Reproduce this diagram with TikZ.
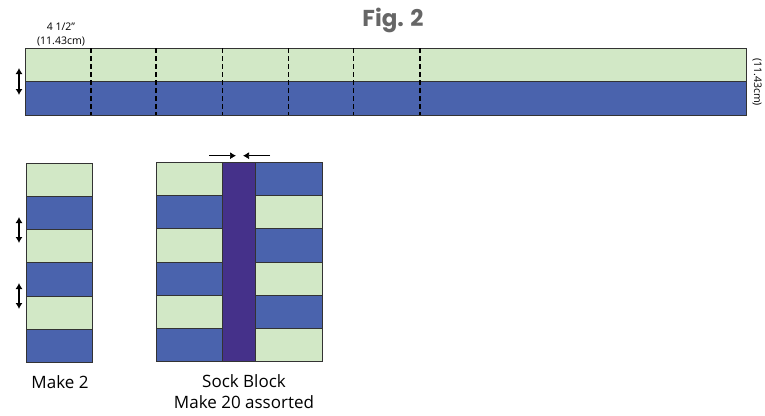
\documentclass[tikz,border=0pt]{standalone}
\usepackage{fontspec}
\setmainfont{Open Sans}
\newfontfamily\figfont{Poppins}
\usetikzlibrary{arrows.meta}

\definecolor{lightgreen}{HTML}{D2E8C6}
\definecolor{stripblue}{HTML}{4A63AD}
\definecolor{sockpurple}{HTML}{45318A}

\begin{document}
\begin{tikzpicture}[
        x=1pt, y=-1pt, % pixel grid, y downwards
        greenpatch/.style = {fill=lightgreen, draw=black!80, line width=0.7pt},
        bluepatch/.style = {fill=stripblue, draw=black!80, line width=0.7pt},
        purplepatch/.style = {fill=sockpurple, draw=black!80, line width=0.7pt},
        cutline/.style = {dash pattern=on 5pt off 3pt, line width=1.4pt}, % cutting lines
        dblarrow/.style = {{Latex[length=6pt,width=7pt]}-{Latex[length=6pt,width=7pt]}, line width=1.1pt},
        pressarrow/.style = {-{Latex[length=6pt,width=7pt]}, line width=0.7pt},
        small/.style = {font=\fontsize{10.5}{14}\selectfont, align=center},
        caption/.style = {font=\fontsize{17}{24}\selectfont, anchor=base},
    ]
    \useasboundingbox (0,0) rectangle (765,415);

    \node[font=\figfont\bfseries\fontsize{23}{26}\selectfont, text=black!60] (figtitle) at (393,20) {Fig. 2};

    % strip set
    \draw[greenpatch] (25,48.3) rectangle (746.5,81.7);
    \draw[bluepatch] (25,81.7) rectangle (746.5,115);
    \foreach \x in {91,156,222.5,288.5,353.7,420}
        \draw[cutline] (\x,48.3) -- (\x,115);
    \node[small] (stripwidth) at (61,35) {4 1/2\char34\\(11.43cm)};
    \node[small, rotate=-90] (stripheight) at (757,82) {(11.43cm)};
    \coordinate (stripA) at (19,68);
    \coordinate (stripB) at (19,95);
    \draw[dblarrow] (stripA) -- (stripB);

    % make 2 column
    \foreach \i/\patch in {0/greenpatch,1/bluepatch,2/greenpatch,3/bluepatch,4/greenpatch,5/bluepatch}
        \draw[\patch] (26.7,163.3+\i*33.17) rectangle ++(66,33.17);
    \coordinate (colA) at (19,217);
    \coordinate (colB) at (19,243);
    \coordinate (colC) at (19,283);
    \coordinate (colD) at (19,309);
    \draw[dblarrow] (colA) -- (colB);
    \draw[dblarrow] (colC) -- (colD);
    \node[caption] (makecol) at (60,388) {Make 2};

    % sock block
    \foreach \i/\patch/\other in {0/greenpatch/bluepatch,1/bluepatch/greenpatch,2/greenpatch/bluepatch,3/bluepatch/greenpatch,4/greenpatch/bluepatch,5/bluepatch/greenpatch}{
        \draw[\patch] (156,162.3+\i*33.23) rectangle ++(66.7,33.23);
        \draw[\other] (255.7,162.3+\i*33.23) rectangle ++(67,33.23);
    }
    \draw[purplepatch] (222.7,162.3) rectangle (255.7,361.7);
    \coordinate (pressL) at (209,155.7);
    \coordinate (pressLtip) at (236,155.7);
    \coordinate (pressR) at (270,155.7);
    \coordinate (pressRtip) at (243,155.7);
    \draw[pressarrow] (pressL) -- (pressLtip);
    \draw[pressarrow] (pressR) -- (pressRtip);
    \node[caption] (sockblock) at (244,387) {Sock Block};
    \node[caption] (sockcount) at (244,408) {Make 20 assorted};
\end{tikzpicture}
\end{document}
